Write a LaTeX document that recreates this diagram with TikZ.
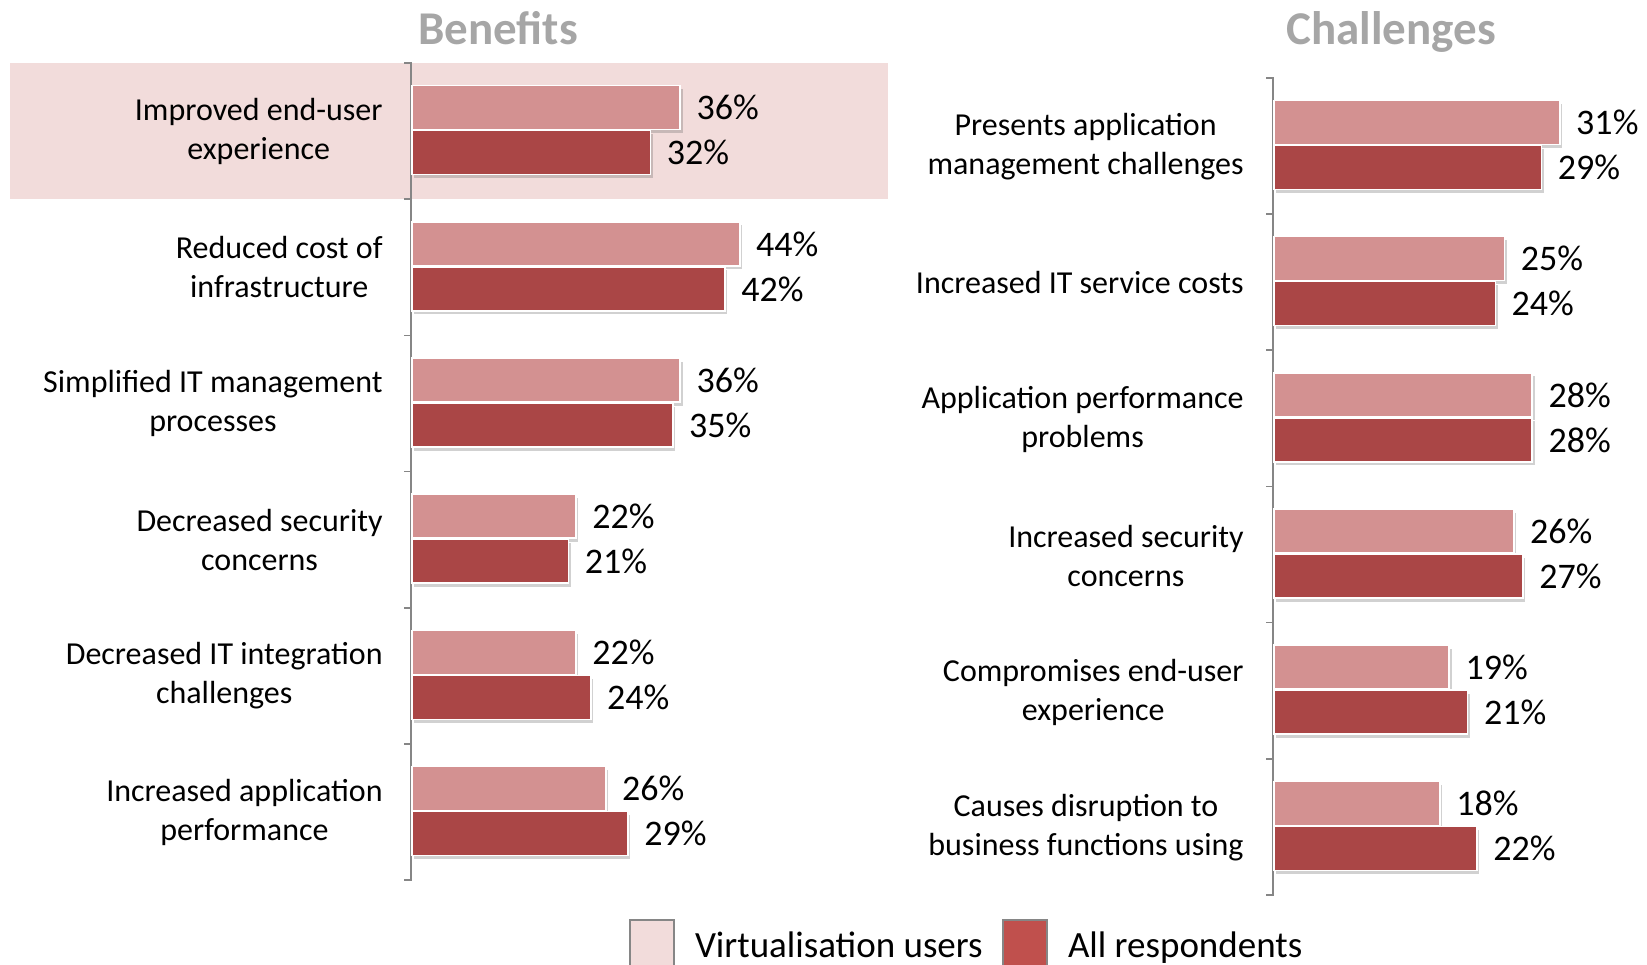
\documentclass[tikz,border=0pt]{standalone}
\usepackage{fontspec}
\setmainfont{Carlito}
\usetikzlibrary{positioning,shadows}
\definecolor{virtbar}{RGB}{211,145,145}
\definecolor{allbar}{RGB}{170,70,70}
\definecolor{hilite}{RGB}{242,220,219}
\definecolor{legall}{RGB}{192,80,77}
\definecolor{axisgray}{RGB}{134,134,134}
\definecolor{titlegray}{RGB}{166,166,166}

\begin{document}
\begin{tikzpicture}[x=0.5pt, y=-0.5pt,
    cat/.style={anchor=east, align=center, inner sep=0pt, font=\fontsize{16}{19.5}\selectfont},
    bar/.style={anchor=west, draw=white, line width=0.8pt, minimum height=22pt, inner sep=0pt, outer sep=0pt,
        drop shadow={shadow xshift=1.2pt, shadow yshift=-1.8pt, opacity=0.3, fill=black!60}},
    bl/.style={bar, minimum width=#1*3.725pt},
    br/.style={bar, minimum width=#1*4.61pt},
    virt/.style={fill=virtbar},
    allr/.style={fill=allbar},
    pct/.style={inner sep=0pt, text depth=0pt, font=\fontsize{18}{20}\selectfont},
    axisline/.style={draw=axisgray, line width=0.8pt},
    title/.style={text depth=0pt, font=\fontsize{23.5}{26}\selectfont\bfseries, text=titlegray},
    legbox/.style={draw=axisgray, line width=0.6pt, minimum width=22pt, minimum height=25pt, inner sep=0pt},
    legtext/.style={inner sep=0pt, text depth=0pt, font=\fontsize{18.5}{20}\selectfont}
]
\useasboundingbox (0,0) rectangle (1647,964);
\clip (0,0) rectangle (1647,964);

% Titel
\node[title] (bentitle) at (498,28) {Benefits};
\node[title] (chltitle) at (1391,28) {Challenges};

% markierte Zeile
\fill[hilite] (10,63) rectangle (888,199.2);

% Achsen
\draw[axisline] (404,63) -- (411,63) -- (411,880.2) -- (404,880.2);
\draw[axisline] (404,199.2) -- +(7,0) (404,335.4) -- +(7,0) (404,471.6) -- +(7,0)
    (404,607.8) -- +(7,0) (404,744) -- +(7,0);
\draw[axisline] (1266,77.7) -- (1273,77.7) -- (1273,894.9) -- (1266,894.9);
\draw[axisline] (1266,213.9) -- +(7,0) (1266,350.1) -- +(7,0) (1266,486.3) -- +(7,0)
    (1266,622.5) -- +(7,0) (1266,758.7) -- +(7,0);

% Benefits
\node[cat] (ben1) at (383,131.1) {Improved end-user\\experience};
\node[bl=36, virt] (ben1v) at (412,107.6) {};
\node[bl=32, allr] (ben1a) at (412,152.6) {};
\node[pct, right=8pt of ben1v] (ben1vl) {36\%};
\node[pct, right=8pt of ben1a] (ben1al) {32\%};

\node[cat] (ben2) at (383,267.3) {Reduced cost of\\infrastructure};
\node[bl=44, virt] (ben2v) at (412,243.8) {};
\node[bl=42, allr] (ben2a) at (412,288.8) {};
\node[pct, right=8pt of ben2v] (ben2vl) {44\%};
\node[pct, right=8pt of ben2a] (ben2al) {42\%};

\node[cat] (ben3) at (383,403.5) {Simplified IT management\\processes};
\node[bl=36, virt] (ben3v) at (412,380) {};
\node[bl=35, allr] (ben3a) at (412,425) {};
\node[pct, right=8pt of ben3v] (ben3vl) {36\%};
\node[pct, right=8pt of ben3a] (ben3al) {35\%};

\node[cat] (ben4) at (383,539.7) {Decreased security\\concerns};
\node[bl=22, virt] (ben4v) at (412,516.2) {};
\node[bl=21, allr] (ben4a) at (412,561.2) {};
\node[pct, right=8pt of ben4v] (ben4vl) {22\%};
\node[pct, right=8pt of ben4a] (ben4al) {21\%};

\node[cat] (ben5) at (383,675.9) {Decreased IT integration\\challenges};
\node[bl=22, virt] (ben5v) at (412,652.4) {};
\node[bl=24, allr] (ben5a) at (412,697.4) {};
\node[pct, right=8pt of ben5v] (ben5vl) {22\%};
\node[pct, right=8pt of ben5a] (ben5al) {24\%};

\node[cat] (ben6) at (383,812.1) {Increased application\\performance};
\node[bl=26, virt] (ben6v) at (412,788.6) {};
\node[bl=29, allr] (ben6a) at (412,833.6) {};
\node[pct, right=8pt of ben6v] (ben6vl) {26\%};
\node[pct, right=8pt of ben6a] (ben6al) {29\%};

% Challenges
\node[cat] (chl1) at (1244,147) {Presents application\\management challenges};
\node[br=31, virt] (chl1v) at (1274,122.3) {};
\node[br=29, allr] (chl1a) at (1274,167.3) {};
\node[pct, right=8pt of chl1v] (chl1vl) {31\%};
\node[pct, right=8pt of chl1a] (chl1al) {29\%};

\node[cat] (chl2) at (1244,283) {Increased IT service costs};
\node[br=25, virt] (chl2v) at (1274,258.5) {};
\node[br=24, allr] (chl2a) at (1274,303.5) {};
\node[pct, right=8pt of chl2v] (chl2vl) {25\%};
\node[pct, right=8pt of chl2a] (chl2al) {24\%};

\node[cat] (chl3) at (1244,419.5) {Application performance\\problems};
\node[br=28, virt] (chl3v) at (1274,394.7) {};
\node[br=28, allr] (chl3a) at (1274,439.7) {};
\node[pct, right=8pt of chl3v] (chl3vl) {28\%};
\node[pct, right=8pt of chl3a] (chl3al) {28\%};

\node[cat] (chl4) at (1244,555.5) {Increased security\\concerns};
\node[br=26, virt] (chl4v) at (1274,530.9) {};
\node[br=27, allr] (chl4a) at (1274,575.9) {};
\node[pct, right=8pt of chl4v] (chl4vl) {26\%};
\node[pct, right=8pt of chl4a] (chl4al) {27\%};

\node[cat] (chl5) at (1244,692) {Compromises end-user\\experience};
\node[br=19, virt] (chl5v) at (1274,667.1) {};
\node[br=21, allr] (chl5a) at (1274,712.1) {};
\node[pct, right=8pt of chl5v] (chl5vl) {19\%};
\node[pct, right=8pt of chl5a] (chl5al) {21\%};

\node[cat] (chl6) at (1244,828) {Causes disruption to\\business functions using};
\node[br=18, virt] (chl6v) at (1274,803.3) {};
\node[br=22, allr] (chl6a) at (1274,848.3) {};
\node[pct, right=8pt of chl6v] (chl6vl) {18\%};
\node[pct, right=8pt of chl6a] (chl6al) {22\%};

% Legende
\node[legbox, fill=hilite] (keyv) at (652,945) {};
\node[legtext, right=10pt of keyv] (keyvt) {Virtualisation users};
\node[legbox, fill=legall] (keya) at (1025,945) {};
\node[legtext, right=10pt of keya] (keyat) {All respondents};

\end{tikzpicture}
\end{document}
